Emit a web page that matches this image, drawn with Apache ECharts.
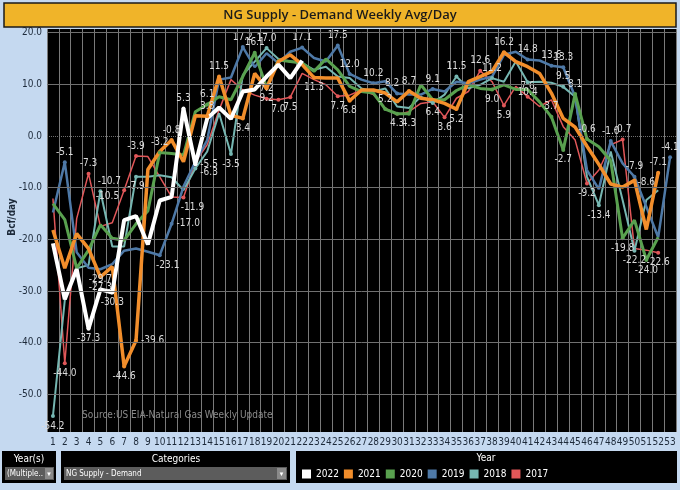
<!DOCTYPE html>
<html><head><meta charset="utf-8">
<script src="https://cdn.jsdelivr.net/npm/echarts@6/dist/echarts.min.js"></script>
<style>html,body{margin:0;padding:0;background:#c5d9f0;}#c{width:680px;height:490px;}</style>
</head><body><div id="c"></div>
<script>
const weeks = ['1','2','3','4','5','6','7','8','9','10','11','12','13','14','15','16','17','18','19','20','21','22','23','24','25','26','27','28','29','30','31','32','33','34','35','36','37','38','39','40','41','42','43','44','45','46','47','48','49','50','51','52','53'];
const yTicks = [20, 10, 0, -10, -20, -30, -40, -50];
const years = ['2022','2021','2020','2019','2018','2017'];

const y2022 = [-20.8,-31.6,-25.8,-37.3,-29.7,-30.3,-16.3,-15.5,-21.0,-12.5,-11.8,5.3,-5.5,3.4,5.5,3.3,8.6,9.0,11.5,13.8,11.2,14.6];
const y2021 = [-18.2,-25.6,-18.9,-21.8,-27.3,-25.3,-44.6,-39.6,-6.5,-3.0,-0.8,-5.0,3.9,3.8,11.5,4.0,3.4,12.1,9.2,14.4,15.7,13.8,11.3,11.2,11.2,6.8,8.9,8.9,8.3,6.6,8.7,7.3,7.0,6.3,5.2,10.5,11.5,12.5,16.2,14.4,13.4,12.1,8.3,3.4,1.7,-2.0,-5.5,-9.3,-9.9,-8.6,-18.1,-7.1,null];
const y2020 = [-13.1,-16.2,-25.6,-22.1,-17.2,-19.8,-20.2,-17.0,-14.5,-3.2,-3.4,-3.7,4.7,6.1,7.6,7.0,11.5,16.1,9.4,14.7,14.4,14.1,12.5,14.9,12.8,9.6,8.6,8.3,5.2,4.3,4.3,9.9,7.0,7.0,8.8,9.9,9.2,9.0,9.9,9.0,9.0,6.6,3.7,-2.7,8.1,-0.6,-2.1,-4.8,-19.8,-16.3,-24.0,-19.6,null];
const y2019 = [-14.8,-5.1,-22.5,-25.5,-25.8,-24.8,-22.2,-21.8,-22.4,-23.1,-17.0,-9.8,-5.0,-0.8,10.9,11.3,17.2,13.3,16.0,14.1,16.3,17.1,15.1,14.4,17.5,12.0,10.9,10.2,10.6,8.2,8.0,8.0,9.1,8.6,10.5,10.2,10.9,11.5,15.7,16.3,14.8,14.6,13.6,13.3,7.6,-6.6,-10.3,-1.0,-5.3,-7.9,-13.7,-19.6,-4.1];
const y2018 = [-54.2,-31.8,-25.6,-25.0,-10.7,-21.4,-21.4,-7.9,-7.9,-7.6,-8.0,-10.5,-6.3,-3.0,4.4,-3.5,11.8,14.4,17.0,14.9,14.4,14.1,12.8,13.4,11.5,11.2,9.2,8.6,9.2,5.7,5.4,7.6,6.4,8.0,11.5,9.2,9.9,11.2,10.5,14.4,10.4,10.5,10.3,9.5,7.6,-7.9,-13.4,-3.0,-12.4,-22.2,-12.4,-10.5,null];
const y2017 = [-12.1,-44.0,-16.0,-7.3,-17.5,-16.8,-10.5,-3.9,-4.0,-7.9,-11.8,-11.9,-5.0,-1.7,5.0,10.9,8.9,7.9,7.2,7.0,7.5,12.1,10.9,9.9,7.7,7.9,8.9,8.0,5.4,4.1,4.7,6.3,6.6,3.6,7.3,8.6,12.6,10.5,5.9,9.6,7.6,5.7,7.0,1.8,-0.8,-9.2,-6.6,-1.7,-0.7,-21.8,-22.1,-22.6,null];

// weeks that carry a data label in the reference
const lab2022 = [4,5,6,12,13];
const lab2021 = [5,7,8,11,14,15,17,19,23,26,31,35,39,50,52];
const lab2020 = [10,14,18,29,30,31,38,43,44,45,46,49,51];
const lab2019 = [2,10,11,17,22,25,26,28,30,33,41,43,44,48,50,53];
const lab2018 = [1,5,8,13,16,19,33,35,38,41,44,47,50];
const lab2017 = [2,4,7,8,12,19,20,21,25,34,37,39,41,46,49,52];

const posOverride = {
  '2021-8':['right',[0,0]], '2022-13':['right',[0,0]], '2018-13':['right',[0,4]],
  '2017-12':['bottom',[9,0]], '2019-11':['right',[0,0]], '2019-10':['bottom',[8,0]],
  '2017-7':['left',[0,6]], '2018-5':['top',[9,0]], '2021-14':['top',[0,0]],
  '2017-21':['bottom',[0,0]], '2021-23':['bottom',[0,0]], '2019-28':['top',[0,0]],
  '2019-30':['top',[-5,0]], '2018-8':['bottom',[0,0]], '2021-50':['right',[-2,2]]
};

const chart = echarts.init(document.getElementById('c'), null, {renderer:'canvas'});

function build(name, vals, labs, color, width) {
  const data = vals.map((v, i) => {
    const wk = i + 1;
    if (v === null || !labs.includes(wk)) return {value: v, symbolSize: 0};
    const prev = i > 0 ? vals[i-1] : null, next = i < vals.length-1 ? vals[i+1] : null;
    let pos = 'top', off = [0,0];
    if ((prev === null || v <= prev) && (next === null || v <= next)) pos = 'bottom';
    const key = name + '-' + wk;
    if (posOverride[key]) { pos = posOverride[key][0]; off = posOverride[key][1]; }
    return {value: v, symbolSize: 4, label: {show: true, position: pos, offset: off}};
  });
  return {
    type: 'line', name: name, data: data, symbol: 'circle', showAllSymbol: true,
    lineStyle: {color: color, width: width}, itemStyle: {color: color},
    label: {show: false, color: '#dcdcdc', fontSize: 10, distance: 3,
      fontFamily: 'DejaVu Sans Condensed, Liberation Sans Narrow, sans-serif',
      formatter: p => (p.value).toFixed(1)},
    emphasis: {disabled: true}, animation: false, connectNulls: false
  };
}

const series = [
  {type:'line', name:'_grid', data:[], silent:true, z:1,
   markLine:{silent:true, symbol:'none', label:{show:false}, animation:false,
     data: yTicks.map(v => ({yAxis: v, lineStyle:{color:'#707070', width:1, type: v === 0 ? 'dotted' : 'solid'}}))}},
  build('2017', y2017, lab2017, '#e15759', 1.5),
  build('2018', y2018, lab2018, '#76b7b2', 2),
  build('2019', y2019, lab2019, '#4e79a7', 2.5),
  build('2020', y2020, lab2020, '#59a14f', 3),
  build('2021', y2021, lab2021, '#f28e2b', 3.5),
  build('2022', y2022, lab2022, '#ffffff', 4)
];

const lblFont = 'DejaVu Sans Condensed, Liberation Sans Narrow, sans-serif';

chart.setOption({
  backgroundColor: '#c5d9f0',
  animation: false,
  grid: {left: 47, right: 4, top: 29, bottom: 58, show: true, backgroundColor: '#000', borderWidth: 0},
  xAxis: {type: 'category', data: weeks, boundaryGap: true,
    axisLine: {show: false}, axisTick: {show: false},
    axisLabel: {interval: 0, color: '#1d2a3a', fontSize: 10, margin: 5, fontFamily: lblFont},
    splitLine: {show: true, interval: 0, lineStyle: {color: '#7a7a7a', width: 1}}},
  yAxis: {type: 'value', min: -57.3, max: 20.7,
    axisLine: {show: false}, axisTick: {show: false}, splitLine: {show: false},
    axisLabel: {customValues: yTicks, formatter: v => v.toFixed(1), color: '#1d2a3a', fontSize: 10, margin: 5, fontFamily: lblFont}},
  legend: {data: years, left: 297, top: 464, itemWidth: 9, itemHeight: 9, itemGap: 5, icon: 'rect',
    textStyle: {color: '#fff', fontSize: 10, width: 32, fontFamily: lblFont}, selectedMode: false},
  series: series,
  graphic: [
    {type:'rect', shape:{x:4, y:3, width:672, height:24}, style:{fill:'#f0b429', stroke:'#1a1a1a', lineWidth:1.5}, z:10},
    {type:'text', x:340, y:15, style:{text:'NG Supply - Demand Weekly Avg/Day', fill:'#1a1a1a', font:'600 13px "Open Sans", sans-serif', align:'center', verticalAlign:'middle'}, z:11},
    {type:'text', x:12, y:217, rotation: Math.PI/2, style:{text:'Bcf/day', fill:'#1d2a3a', font:'bold 10px "DejaVu Sans Condensed", sans-serif', align:'center', verticalAlign:'middle'}, z:11},
    {type:'text', x:82, y:415, style:{text:'Source:US EIA-Natural Gas Weekly Update', fill:'#8a8a8a', font:'10px "DejaVu Sans Condensed", sans-serif', verticalAlign:'middle'}, z:11},
    {type:'rect', shape:{x:2, y:451, width:54, height:32}, style:{fill:'#000'}, z:10},
    {type:'text', x:29, y:459, style:{text:'Year(s)', fill:'#fff', font:'10px "DejaVu Sans Condensed", sans-serif', align:'center', verticalAlign:'middle'}, z:11},
    {type:'rect', shape:{x:5, y:467, width:49, height:13}, style:{fill:'#5c5c5c'}, z:11},
    {type:'text', x:7, y:474, style:{text:'(Multiple..', fill:'#fff', font:'8px "DejaVu Sans Condensed", sans-serif', verticalAlign:'middle'}, z:12},
    {type:'rect', shape:{x:45, y:468, width:8, height:11}, style:{fill:'#8a8a8a'}, z:12},
    {type:'text', x:49, y:474, style:{text:'▼', fill:'#fff', font:'6px sans-serif', align:'center', verticalAlign:'middle'}, z:13},
    {type:'rect', shape:{x:61, y:451, width:229, height:32}, style:{fill:'#000'}, z:10},
    {type:'text', x:176, y:459, style:{text:'Categories', fill:'#fff', font:'10px "DejaVu Sans Condensed", sans-serif', align:'center', verticalAlign:'middle'}, z:11},
    {type:'rect', shape:{x:64, y:467, width:223, height:13}, style:{fill:'#5c5c5c'}, z:11},
    {type:'text', x:66, y:474, style:{text:'NG Supply - Demand', fill:'#fff', font:'8px "DejaVu Sans Condensed", sans-serif', verticalAlign:'middle'}, z:12},
    {type:'rect', shape:{x:277, y:468, width:9, height:11}, style:{fill:'#8a8a8a'}, z:12},
    {type:'text', x:281.5, y:474, style:{text:'▼', fill:'#fff', font:'6px sans-serif', align:'center', verticalAlign:'middle'}, z:13},
    {type:'rect', shape:{x:296, y:451, width:381, height:32}, style:{fill:'#000'}, z:0},
    {type:'text', x:486, y:458, style:{text:'Year', fill:'#fff', font:'10px "DejaVu Sans Condensed", sans-serif', align:'center', verticalAlign:'middle'}, z:11}
  ]
});
</script></body></html>
